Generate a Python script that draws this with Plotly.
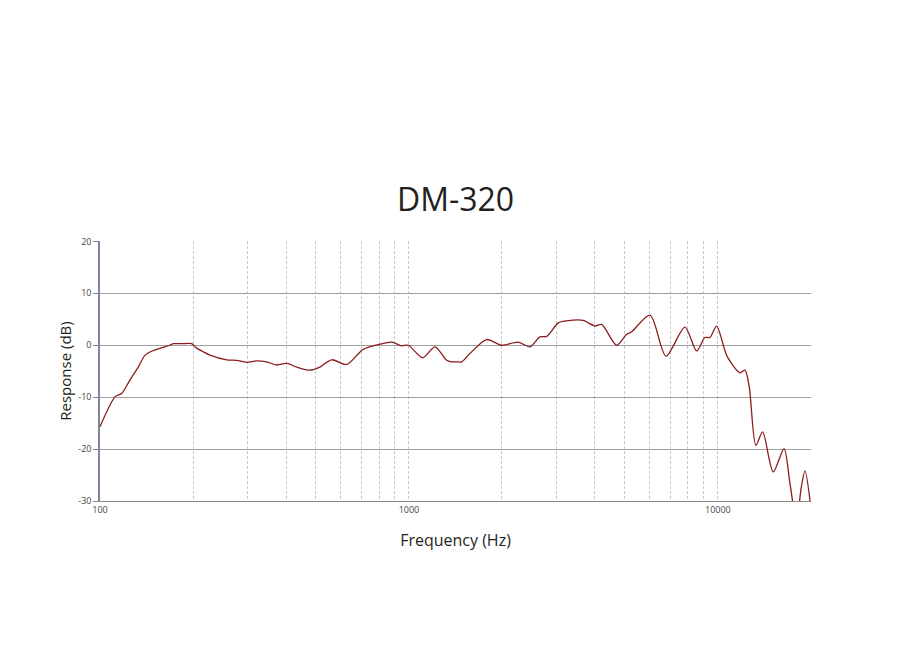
import plotly.graph_objects as go

freq_hz = [100, 112, 117.5, 125, 133, 140, 149, 160, 168, 173, 185, 198, 205, 215, 227, 257, 277, 298, 322, 346,
           373, 402, 433, 478, 515, 562, 629, 711, 806, 879, 947, 995, 1108, 1214, 1324, 1374, 1430, 1482, 1575,
           1783, 1995, 2258, 2465, 2655, 2792, 3044, 3236, 3664, 3999, 4204, 4702, 5067, 5259, 6030, 6792, 7821,
           8534, 9078, 9422, 9901, 10722, 11786, 12232, 12632, 13274, 13954, 15106, 16369, 17100, 17980, 18600,
           19143, 19966]
response_db = [-15.7, -9.9, -9.3, -6.7, -4.2, -1.9, -1.0, -0.4, 0.0, 0.3, 0.3, 0.3, -0.5, -1.2, -1.9, -2.8, -2.9,
               -3.3, -3.0, -3.2, -3.8, -3.5, -4.2, -4.8, -4.2, -2.8, -3.7, -0.8, 0.2, 0.6, -0.1, 0.0, -2.4, -0.3,
               -2.9, -3.2, -3.2, -3.2, -1.6, 1.1, 0.0, 0.6, -0.3, 1.6, 1.7, 4.3, 4.7, 4.8, 3.7, 4.0, 0.0, 2.1, 2.6,
               5.8, -2.1, 3.5, -1.1, 1.5, 1.5, 3.7, -2.2, -5.3, -4.8, -8.0, -19.3, -16.7, -24.4, -19.9, -26.5,
               -34.0, -27.5, -24.2, -31.0]

title_text = "DM-320"
x_title = "Frequency (Hz)"
y_title = "Response (dB)"
x_tick_vals = [m * d for d in (100, 1000, 10000) for m in range(1, 10)] + [20000]
x_tick_text = [str(v) if v in (100, 1000, 10000) else "" for v in x_tick_vals]
y_tick_vals = [-30, -20, -10, 0, 10, 20]
y_tick_text = ["-30", "-20", "-10", "0", "10", "20"]

font_family = "Open Sans, Noto Sans, sans-serif"

fig = go.Figure()
fig.add_trace(go.Scatter(
    x=freq_hz, y=response_db, mode="lines",
    line=dict(color="#8b1c1c", width=1.3, shape="spline", smoothing=0.8),
    hoverinfo="x+y", showlegend=False,
))

fig.update_layout(
    width=902, height=667,
    paper_bgcolor="white", plot_bgcolor="white",
    margin=dict(l=92, r=99, t=233, b=174),
    title=dict(text=title_text, x=(92 + 803) / 2 / 902, xanchor="center", y=1 - 192 / 667, yanchor="middle",
               font=dict(family=font_family, size=32, color="#231f20")),
    font=dict(family=font_family, color="#333333"),
)

fig.update_xaxes(
    type="log", range=[2, 4.3014],
    tickvals=x_tick_vals, ticktext=x_tick_text,
    showgrid=True, gridcolor="#c8c8c8", griddash="3px,2px", gridwidth=1,
    showline=True, linecolor="#8a8a8a", linewidth=1, mirror=False,
    ticks="", tickfont=dict(size=9, color="#444444"),
    title=dict(text=x_title, font=dict(size=16, color="#231f20"), standoff=20),
    zeroline=False,
)
fig.update_yaxes(
    range=[-30, 20.08], tickvals=y_tick_vals, ticktext=y_tick_text,
    showgrid=True, gridcolor="#a0a0a0", gridwidth=1,
    showline=True, linecolor="#7f8596", linewidth=1.5,
    ticks="outside", ticklen=5, tickcolor="#7f8596",
    tickfont=dict(size=9, color="#444444"),
    title=dict(text=y_title, font=dict(size=15, color="#231f20"), standoff=3),
    zeroline=False,
)

fig.write_html("out.html")
